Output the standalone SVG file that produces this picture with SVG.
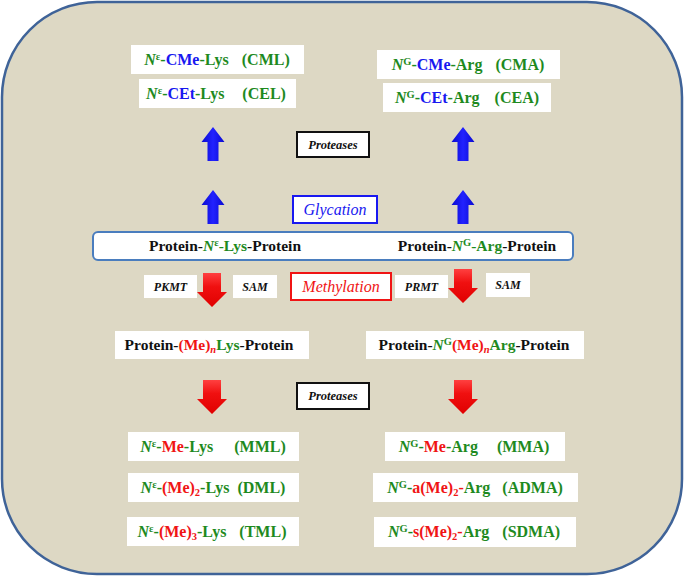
<svg xmlns="http://www.w3.org/2000/svg" width="685" height="577" viewBox="0 0 685 577" font-family="Liberation Serif, serif">
<style>
.t{font-family:Liberation Serif, serif;font-weight:bold;font-size:15.5px;text-anchor:middle}
.u{font-size:16px}
.l{font-family:Liberation Serif, serif;font-style:italic;text-anchor:middle}
.g{fill:#1E8A1E}.b{fill:#1818F0}.r{fill:#F01414}.k{fill:#111}
.s{font-size:10.5px}
.i{font-style:italic}
.box{fill:#fff}
</style>
<defs>
<linearGradient id="bg" x1="0" x2="1" y1="0" y2="0">
<stop offset="0" stop-color="#0A0AD0"/><stop offset="0.5" stop-color="#2222FF"/><stop offset="1" stop-color="#0A0AD0"/>
</linearGradient>
<linearGradient id="rg" x1="0" x2="0" y1="0" y2="1">
<stop offset="0" stop-color="#FF4040"/><stop offset="0.4" stop-color="#F01010"/><stop offset="1" stop-color="#E00000"/>
</linearGradient>
<path id="up" d="M0,0 L11.5,15 L5.5,15 L5.5,34 L-5.5,34 L-5.5,15 L-11.5,15 Z" fill="url(#bg)"/>
<path id="down" d="M-9,0 L9,0 L9,19 L15,19 L0,34 L-15,19 L-9,19 Z" fill="url(#rg)"/>
</defs>
<rect x="2" y="2" width="680" height="572" rx="95" ry="95" fill="#DDD8C4" stroke="#3F6398" stroke-width="2.5"/>

<g id="connectors">
<use href="#up" x="213" y="127"/>
<use href="#up" x="463" y="127"/>
<use href="#up" x="213" y="190"/>
<use href="#up" x="463" y="190"/>
<use href="#down" x="212" y="273"/>
<use href="#down" x="463" y="269"/>
<use href="#down" x="212" y="380"/>
<use href="#down" x="463" y="380"/>
</g>

<g id="cml"><rect class="box" x="131" y="45" width="173" height="29"/>
<text class="t u g" x="217" y="65"><tspan class="i">N</tspan><tspan class="s" dy="-5">ε</tspan><tspan dy="5">-</tspan><tspan class="b">CMe</tspan>-Lys<tspan dx="13">(CML)</tspan></text></g>
<g id="cel"><rect class="box" x="139" y="79" width="157" height="29"/>
<text class="t u g" x="216" y="99"><tspan class="i">N</tspan><tspan class="s" dy="-5">ε</tspan><tspan dy="5">-</tspan><tspan class="b">CEt</tspan>-Lys<tspan dx="18">(CEL)</tspan></text></g>
<g id="cma"><rect class="box" x="377" y="50" width="183" height="29"/>
<text class="t u g" x="468" y="70"><tspan class="i">N</tspan><tspan class="s" dy="-5">G</tspan><tspan dy="5">-</tspan><tspan class="b">CMe</tspan>-Arg<tspan dx="13">(CMA)</tspan></text></g>
<g id="cea"><rect class="box" x="383" y="83" width="168" height="29"/>
<text class="t u g" x="467" y="103"><tspan class="i">N</tspan><tspan class="s" dy="-5">G</tspan><tspan dy="5">-</tspan><tspan class="b">CEt</tspan>-Arg<tspan dx="15">(CEA)</tspan></text></g>

<g id="proteases1"><rect x="297" y="132" width="72" height="25" fill="#fff" stroke="#111" stroke-width="2"/>
<text class="l k" x="333" y="149" font-size="12.5" font-weight="bold">Proteases</text></g>
<g id="glycation"><rect x="293" y="196" width="84" height="27" fill="#fff" stroke="#1818F0" stroke-width="2"/>
<text class="l b" x="335" y="215" font-size="16">Glycation</text></g>

<g id="protein-bar"><rect x="93" y="232" width="480" height="28" rx="5" fill="#fff" stroke="#4A7DBE" stroke-width="2"/>
<text class="t k" x="225" y="251">Protein-<tspan class="g i">N</tspan><tspan class="g s" dy="-5">ε</tspan><tspan class="g" dy="5">-Lys</tspan>-Protein</text>
<text class="t k" x="477" y="251">Protein-<tspan class="g i">N</tspan><tspan class="g s" dy="-5">G</tspan><tspan class="g" dy="5">-Arg</tspan>-Protein</text></g>

<g id="pkmt"><rect class="box" x="144" y="275" width="53" height="23"/>
<text class="l k" x="170.5" y="291" font-size="12" font-weight="bold">PKMT</text></g>
<g id="sam1"><rect class="box" x="233" y="275" width="44" height="23"/>
<text class="l k" x="255" y="291" font-size="12" font-weight="bold">SAM</text></g>
<g id="methylation"><rect x="291" y="273" width="100" height="27" fill="#fff" stroke="#F01414" stroke-width="2"/>
<text class="l r" x="341" y="292" font-size="16">Methylation</text></g>
<g id="prmt"><rect class="box" x="395" y="275" width="53" height="23"/>
<text class="l k" x="421.5" y="291" font-size="12" font-weight="bold">PRMT</text></g>
<g id="sam2"><rect class="box" x="486" y="273" width="44" height="24"/>
<text class="l k" x="508" y="289" font-size="12" font-weight="bold">SAM</text></g>

<g id="me-lys"><rect class="box" x="115" y="331" width="194" height="28"/>
<text class="t k" x="209" y="350">Protein-<tspan class="r">(Me)</tspan><tspan class="r i s" dy="3">n</tspan><tspan class="g" dy="-3">Lys</tspan>-Protein</text></g>
<g id="me-arg"><rect class="box" x="366" y="331" width="218" height="28"/>
<text class="t k" x="474" y="350">Protein-<tspan class="g i">N</tspan><tspan class="g s" dy="-5">G</tspan><tspan class="r" dy="5">(Me)</tspan><tspan class="r i s" dy="3">n</tspan><tspan class="g" dy="-3">Arg</tspan>-Protein</text></g>

<g id="proteases2"><rect x="297" y="383" width="72" height="26" fill="#fff" stroke="#111" stroke-width="2"/>
<text class="l k" x="333" y="400" font-size="12.5" font-weight="bold">Proteases</text></g>

<g id="mml"><rect class="box" x="128" y="432" width="171" height="29"/>
<text class="t u g" x="213" y="452"><tspan class="i">N</tspan><tspan class="s" dy="-5">ε</tspan><tspan dy="5">-</tspan><tspan class="r">Me</tspan>-Lys<tspan dx="21">(MML)</tspan></text></g>
<g id="dml"><rect class="box" x="128" y="473" width="171" height="29"/>
<text class="t u g" x="213" y="493"><tspan class="i">N</tspan><tspan class="s" dy="-5">ε</tspan><tspan dy="5">-</tspan><tspan class="r">(Me)</tspan><tspan class="r s" dy="3">2</tspan><tspan dy="-3">-Lys</tspan><tspan dx="8">(DML)</tspan></text></g>
<g id="tml"><rect class="box" x="127" y="517" width="172" height="29"/>
<text class="t u g" x="212" y="537"><tspan class="i">N</tspan><tspan class="s" dy="-5">ε</tspan><tspan dy="5">-</tspan><tspan class="r">(Me)</tspan><tspan class="r s" dy="3">3</tspan><tspan dy="-3">-Lys</tspan><tspan dx="13">(TML)</tspan></text></g>

<g id="mma"><rect class="box" x="385" y="432" width="180" height="29"/>
<text class="t u g" x="474" y="452"><tspan class="i">N</tspan><tspan class="s" dy="-5">G</tspan><tspan dy="5">-</tspan><tspan class="r">Me</tspan>-Arg<tspan dx="19">(MMA)</tspan></text></g>
<g id="adma"><rect class="box" x="373" y="473" width="205" height="29"/>
<text class="t u g" x="475" y="493"><tspan class="i">N</tspan><tspan class="s" dy="-5">G</tspan><tspan dy="5">-</tspan><tspan class="r">a(Me)</tspan><tspan class="r s" dy="3">2</tspan><tspan class="r" dy="-3">-</tspan>Arg<tspan dx="12">(ADMA)</tspan></text></g>
<g id="sdma"><rect class="box" x="374" y="517" width="202" height="30"/>
<text class="t u g" x="474" y="537"><tspan class="i">N</tspan><tspan class="s" dy="-5">G</tspan><tspan dy="5">-</tspan><tspan class="r">s(Me)</tspan><tspan class="r s" dy="3">2</tspan><tspan class="r" dy="-3">-</tspan>Arg<tspan dx="13">(SDMA)</tspan></text></g>
</svg>
